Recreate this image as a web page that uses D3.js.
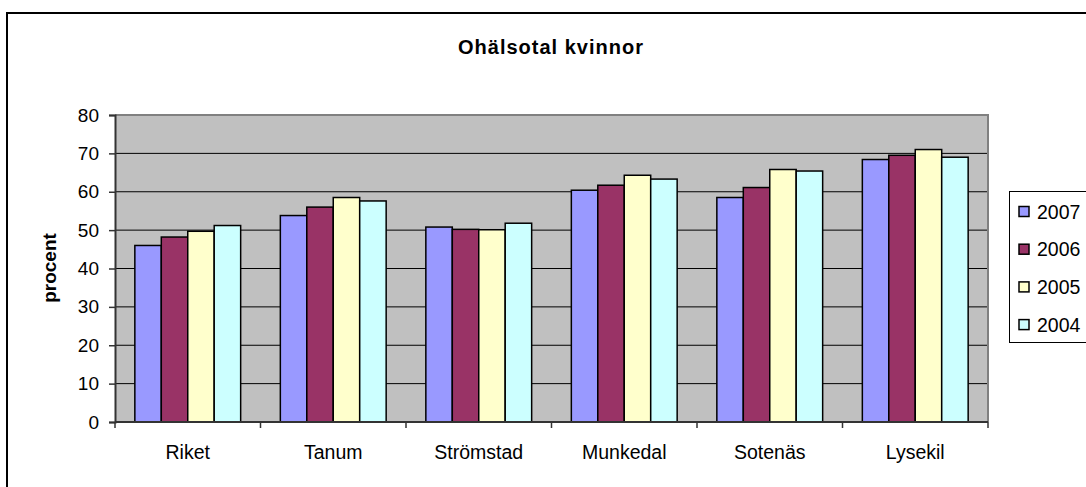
<!DOCTYPE html>
<html>
<head>
<meta charset="utf-8">
<script src="https://cdn.jsdelivr.net/npm/d3@7.9.0/dist/d3.min.js"></script>
<style>
  html, body { margin: 0; padding: 0; background: #fff; overflow: hidden; }
  svg { display: block; font-family: "Liberation Sans", Arial, sans-serif; }
</style>
</head>
<body>
<svg id="chart" width="1086" height="487"></svg>
<script>
const categories = ["Riket", "Tanum", "Strömstad", "Munkedal", "Sotenäs", "Lysekil"];
const seriesNames = ["2007", "2006", "2005", "2004"];
const v2007 = [46.0, 53.8, 50.8, 60.4, 58.5, 68.4];
const v2006 = [48.2, 56.0, 50.2, 61.7, 61.1, 69.5];
const v2005 = [49.7, 58.5, 50.1, 64.3, 65.8, 71.0];
const v2004 = [51.2, 57.6, 51.8, 63.3, 65.4, 69.0];
const yTicks = [0, 10, 20, 30, 40, 50, 60, 70, 80];
const colors = ["#9999FF", "#993366", "#FFFFCC", "#CCFFFF"];

const seriesValues = [v2007, v2006, v2005, v2004];

const svg = d3.select("#chart");

// outer chart frame (runs off the right and bottom edges)
svg.append("rect")
  .attr("x", 7).attr("y", 13)
  .attr("width", 1200).attr("height", 600)
  .attr("fill", "none").attr("stroke", "#000").attr("stroke-width", 2);

const plot = { left: 115, right: 988, top: 115, bottom: 422 };

const x0 = d3.scaleBand().domain(categories).range([plot.left, plot.right]);
const x1 = d3.scaleBand().domain(seriesNames).range([0, x0.bandwidth()])
  .paddingInner(0).paddingOuter(0.75);
const y = d3.scaleLinear().domain([0, 80]).range([plot.bottom, plot.top]);

// plot background
svg.append("rect")
  .attr("x", plot.left).attr("y", plot.top)
  .attr("width", plot.right - plot.left).attr("height", plot.bottom - plot.top)
  .attr("fill", "#C0C0C0");

// gridlines
svg.append("g").selectAll("line")
  .data(yTicks.filter(d => d > 0 && d < 80))
  .enter().append("line")
  .attr("x1", plot.left).attr("x2", plot.right)
  .attr("y1", d => y(d)).attr("y2", d => y(d))
  .attr("stroke", "#000").attr("stroke-width", 1);

// plot border top/right
svg.append("path")
  .attr("d", `M${plot.left},${plot.top}H${plot.right}V${plot.bottom}`)
  .attr("fill", "none").attr("stroke", "#808080").attr("stroke-width", 2);

// bars
const rows = categories.map((c, i) => ({
  cat: c,
  vals: seriesNames.map((s, j) => ({ s, j, v: seriesValues[j][i] }))
}));

svg.append("g").selectAll("g")
  .data(rows)
  .enter().append("g")
  .attr("transform", d => `translate(${x0(d.cat)},0)`)
  .selectAll("rect")
  .data(d => d.vals)
  .enter().append("rect")
  .attr("x", d => x1(d.s))
  .attr("y", d => y(d.v))
  .attr("width", x1.bandwidth())
  .attr("height", d => y(0) - y(d.v))
  .attr("fill", d => colors[d.j])
  .attr("stroke", "#000").attr("stroke-width", 1.5);

// y axis
const yAxis = svg.append("g")
  .attr("transform", `translate(${plot.left},0)`)
  .call(d3.axisLeft(y).tickValues(yTicks).tickSize(6).tickPadding(10));
yAxis.select(".domain").attr("stroke", "#333").attr("stroke-width", 2);
yAxis.selectAll(".tick line").attr("stroke", "#333").attr("stroke-width", 1.5);
yAxis.selectAll("text").attr("font-size", 19).attr("fill", "#000")
  .attr("font-family", "Liberation Sans, Arial, sans-serif");

// x axis: ticks at category boundaries
const xAxis = svg.append("g");
xAxis.append("line")
  .attr("x1", plot.left).attr("x2", plot.right)
  .attr("y1", plot.bottom).attr("y2", plot.bottom)
  .attr("stroke", "#333").attr("stroke-width", 2);
const bounds = categories.map(c => x0(c)).concat([plot.right]);
xAxis.selectAll(".xt").data(bounds).enter().append("line")
  .attr("x1", d => d).attr("x2", d => d)
  .attr("y1", plot.bottom).attr("y2", plot.bottom + 6)
  .attr("stroke", "#333").attr("stroke-width", 1.5);
xAxis.selectAll("text").data(categories).enter().append("text")
  .attr("x", d => x0(d) + x0.bandwidth() / 2)
  .attr("y", 459)
  .attr("text-anchor", "middle")
  .attr("font-size", 19.5)
  .text(d => d);

// title
svg.append("text")
  .attr("x", 551).attr("y", 54)
  .attr("text-anchor", "middle")
  .attr("font-size", 20).attr("font-weight", "bold")
  .attr("letter-spacing", 1)
  .text("Ohälsotal kvinnor");

// y label
svg.append("text")
  .attr("transform", "translate(56,268) rotate(-90)")
  .attr("text-anchor", "middle")
  .attr("font-size", 19).attr("font-weight", "bold")
  .text("procent");

// legend
const legend = svg.append("g");
legend.append("rect")
  .attr("x", 1009.5).attr("y", 191.5)
  .attr("width", 200).attr("height", 151)
  .attr("fill", "#fff").attr("stroke", "#000").attr("stroke-width", 1);
const items = legend.selectAll("g.item").data(seriesNames).enter().append("g")
  .attr("transform", (d, i) => `translate(1019,${211.5 + i * 37.7})`);
items.append("rect")
  .attr("x", 0).attr("y", -5)
  .attr("width", 10).attr("height", 10)
  .attr("fill", (d, i) => colors[i])
  .attr("stroke", "#000").attr("stroke-width", 1.5);
items.append("text")
  .attr("x", 18).attr("y", 7)
  .attr("font-size", 19.5)
  .text(d => d);
</script>
</body>
</html>
